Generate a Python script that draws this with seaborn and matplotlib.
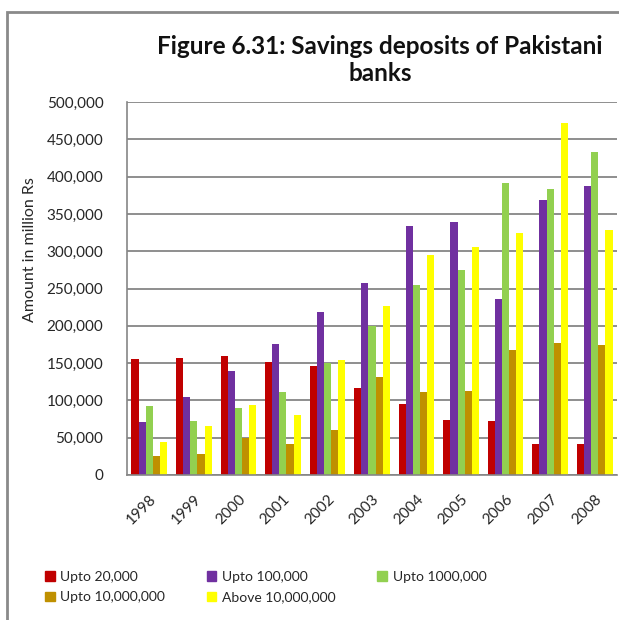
import matplotlib
matplotlib.use("Agg")
import matplotlib.pyplot as plt
import matplotlib.patches as mpatches
from matplotlib.ticker import FuncFormatter, FixedLocator
import seaborn as sns
import pandas as pd

years = ["1998", "1999", "2000", "2001", "2002", "2003", "2004", "2005", "2006", "2007", "2008"]
series_names = ["Upto 20,000", "Upto 100,000", "Upto 1000,000", "Upto 10,000,000", "Above 10,000,000"]
upto_20k = [156000, 157000, 159000, 152000, 146000, 117000, 95000, 74000, 72000, 41000, 41000]
upto_100k = [71000, 104000, 140000, 175000, 219000, 257000, 334000, 339000, 236000, 369000, 387000]
upto_1m = [93000, 72000, 90000, 111000, 150000, 200000, 255000, 275000, 391000, 383000, 433000]
upto_10m = [26000, 28000, 49000, 42000, 60000, 132000, 111000, 113000, 168000, 177000, 174000]
above_10m = [44000, 66000, 94000, 80000, 154000, 226000, 295000, 305000, 324000, 472000, 328000]
colors = ["#C00000", "#7030A0", "#92D050", "#BF9000", "#FFFF00"]

values = [upto_20k, upto_100k, upto_1m, upto_10m, above_10m]
df = pd.DataFrame(
    [(y, name, v) for name, vals in zip(series_names, values) for y, v in zip(years, vals)],
    columns=["Year", "Series", "Amount"],
)

sns.set_style("white")
plt.rcParams["font.family"] = ["Lato", "DejaVu Sans"]

fig = plt.figure(figsize=(6.19, 6.20), dpi=100)
ax = fig.add_axes([127 / 619, 145 / 620, 490 / 619, 373 / 620])

sns.barplot(data=df, x="Year", y="Amount", hue="Series", hue_order=series_names,
            palette=colors, width=0.8, saturation=1, ax=ax, linewidth=0)

ax.set_ylim(0, 500000)
ax.set_xlim(-0.5, len(years) - 0.5)
ax.yaxis.set_major_locator(FixedLocator(range(0, 500001, 50000)))
ax.yaxis.set_major_formatter(FuncFormatter(lambda v, p: f"{int(v):,}"))
ax.grid(axis="y", color="#868686", linewidth=1.3)
ax.set_axisbelow(True)

for s in ["top", "right"]:
    ax.spines[s].set_visible(False)
for s in ["left", "bottom"]:
    ax.spines[s].set_color("#868686")
    ax.spines[s].set_linewidth(1.2)

ax.tick_params(axis="y", length=7, width=1.2, color="#868686", labelsize=11,
               labelcolor="#262626", pad=10)
ax.set_xticks(range(len(years)))
ax.set_xticklabels(years, rotation=45, ha="right", rotation_mode="anchor",
                   fontsize=11, color="#262626")
ax.tick_params(axis="x", which="major", length=0, pad=12)
ax.set_xticks([i - 0.5 for i in range(len(years) + 1)], minor=True)
ax.tick_params(axis="x", which="minor", length=6, width=1.2, color="#868686")

ax.set_xlabel("")
ax.set_ylabel("Amount in million Rs", fontsize=11.5, color="#262626")
ax.yaxis.set_label_coords(-90 / 490, 0.605)

ax.get_legend().remove()
handles = [mpatches.Patch(color=c, label=n) for c, n in zip(colors, series_names)]
order = [0, 3, 1, 4, 2]
fig.legend([handles[i] for i in order], [series_names[i] for i in order],
           ncol=3, loc="upper left", bbox_to_anchor=(38 / 619, 1 - 564 / 620),
           frameon=False, fontsize=10, handlelength=0.7, handleheight=0.7,
           handletextpad=0.4, columnspacing=3.0, labelspacing=0.6, borderpad=0)

fig.text(380 / 619, 1 - 60 / 620, "Figure 6.31: Savings deposits of Pakistani\nbanks",
         ha="center", va="center", fontsize=17.5, fontweight="bold", color="#111111",
         linespacing=1.25)

# outer frame of the figure
fig.patches.append(mpatches.Rectangle((7 / 619, -0.05), 1.1, 1 - 12 / 620 + 0.05,
                                      transform=fig.transFigure, fill=False,
                                      edgecolor="#8a8a8a", linewidth=2))

fig.savefig("out.png", dpi=100)
